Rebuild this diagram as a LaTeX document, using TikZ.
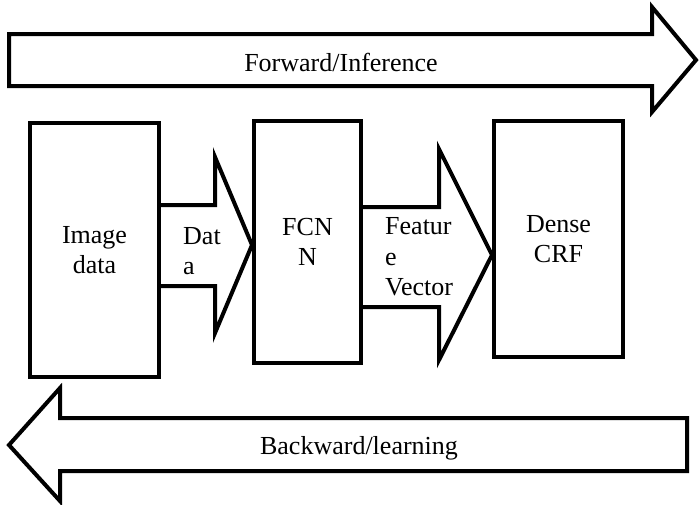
\documentclass[tikz,border=0pt]{standalone}
\usepackage{fontspec}
\setmainfont{Liberation Serif}
\usetikzlibrary{positioning}
\tikzset{
  stage/.style={draw, line width=4pt, inner sep=0pt, align=center, font=\fontsize{26}{30.5}\selectfont},
  flow/.style={draw, line width=4pt, line join=miter},
  flowtext/.style={inner sep=0pt, align=left, font=\fontsize{26}{30.5}\selectfont}
}
\begin{document}
\begin{tikzpicture}[x=1pt,y=-1pt]
	\useasboundingbox (0,0) rectangle (700,504);
	\node[stage, minimum width=129pt, minimum height=254pt] (img) at (94.5,250) {Image\\data};
	\node[stage, minimum width=107pt, minimum height=242pt] (fcn) at (307.5,242) {FCN\\N};
	\node[stage, minimum width=129pt, minimum height=236pt] (crf) at (558.5,239) {Dense\\CRF};
	\draw[flow] (img.east |- 0,205) -- (215,205) -- (215,157) -- (fcn.west |- 0,245) -- (215,333) -- (215,286) -- (img.east |- 0,286);
	\node[flowtext, anchor=west] (data) at (183,251) {Dat\\a};
	\draw[flow] (fcn.east |- 0,207) -- (439,207) -- (439,149) -- (crf.west |- 0,255) -- (439,360) -- (439,307) -- (fcn.east |- 0,307);
	\node[flowtext, anchor=west] (feat) at (385,257) {Featur\\e\\Vector};
	\draw[flow] (9,34) -- (652,34) -- (652,7) -- (696,60) -- (652,112) -- (652,86) -- (9,86) -- cycle;
	\node[flowtext] (fwd) at (341,62) {Forward/Inference};
	\draw[flow] (687,418) -- (60,418) -- (60,388) -- (9,445) -- (60,501) -- (60,471) -- (687,471) -- cycle;
	\node[flowtext] (bwd) at (359,448) {Backward/learning};
\end{tikzpicture}
\end{document}
